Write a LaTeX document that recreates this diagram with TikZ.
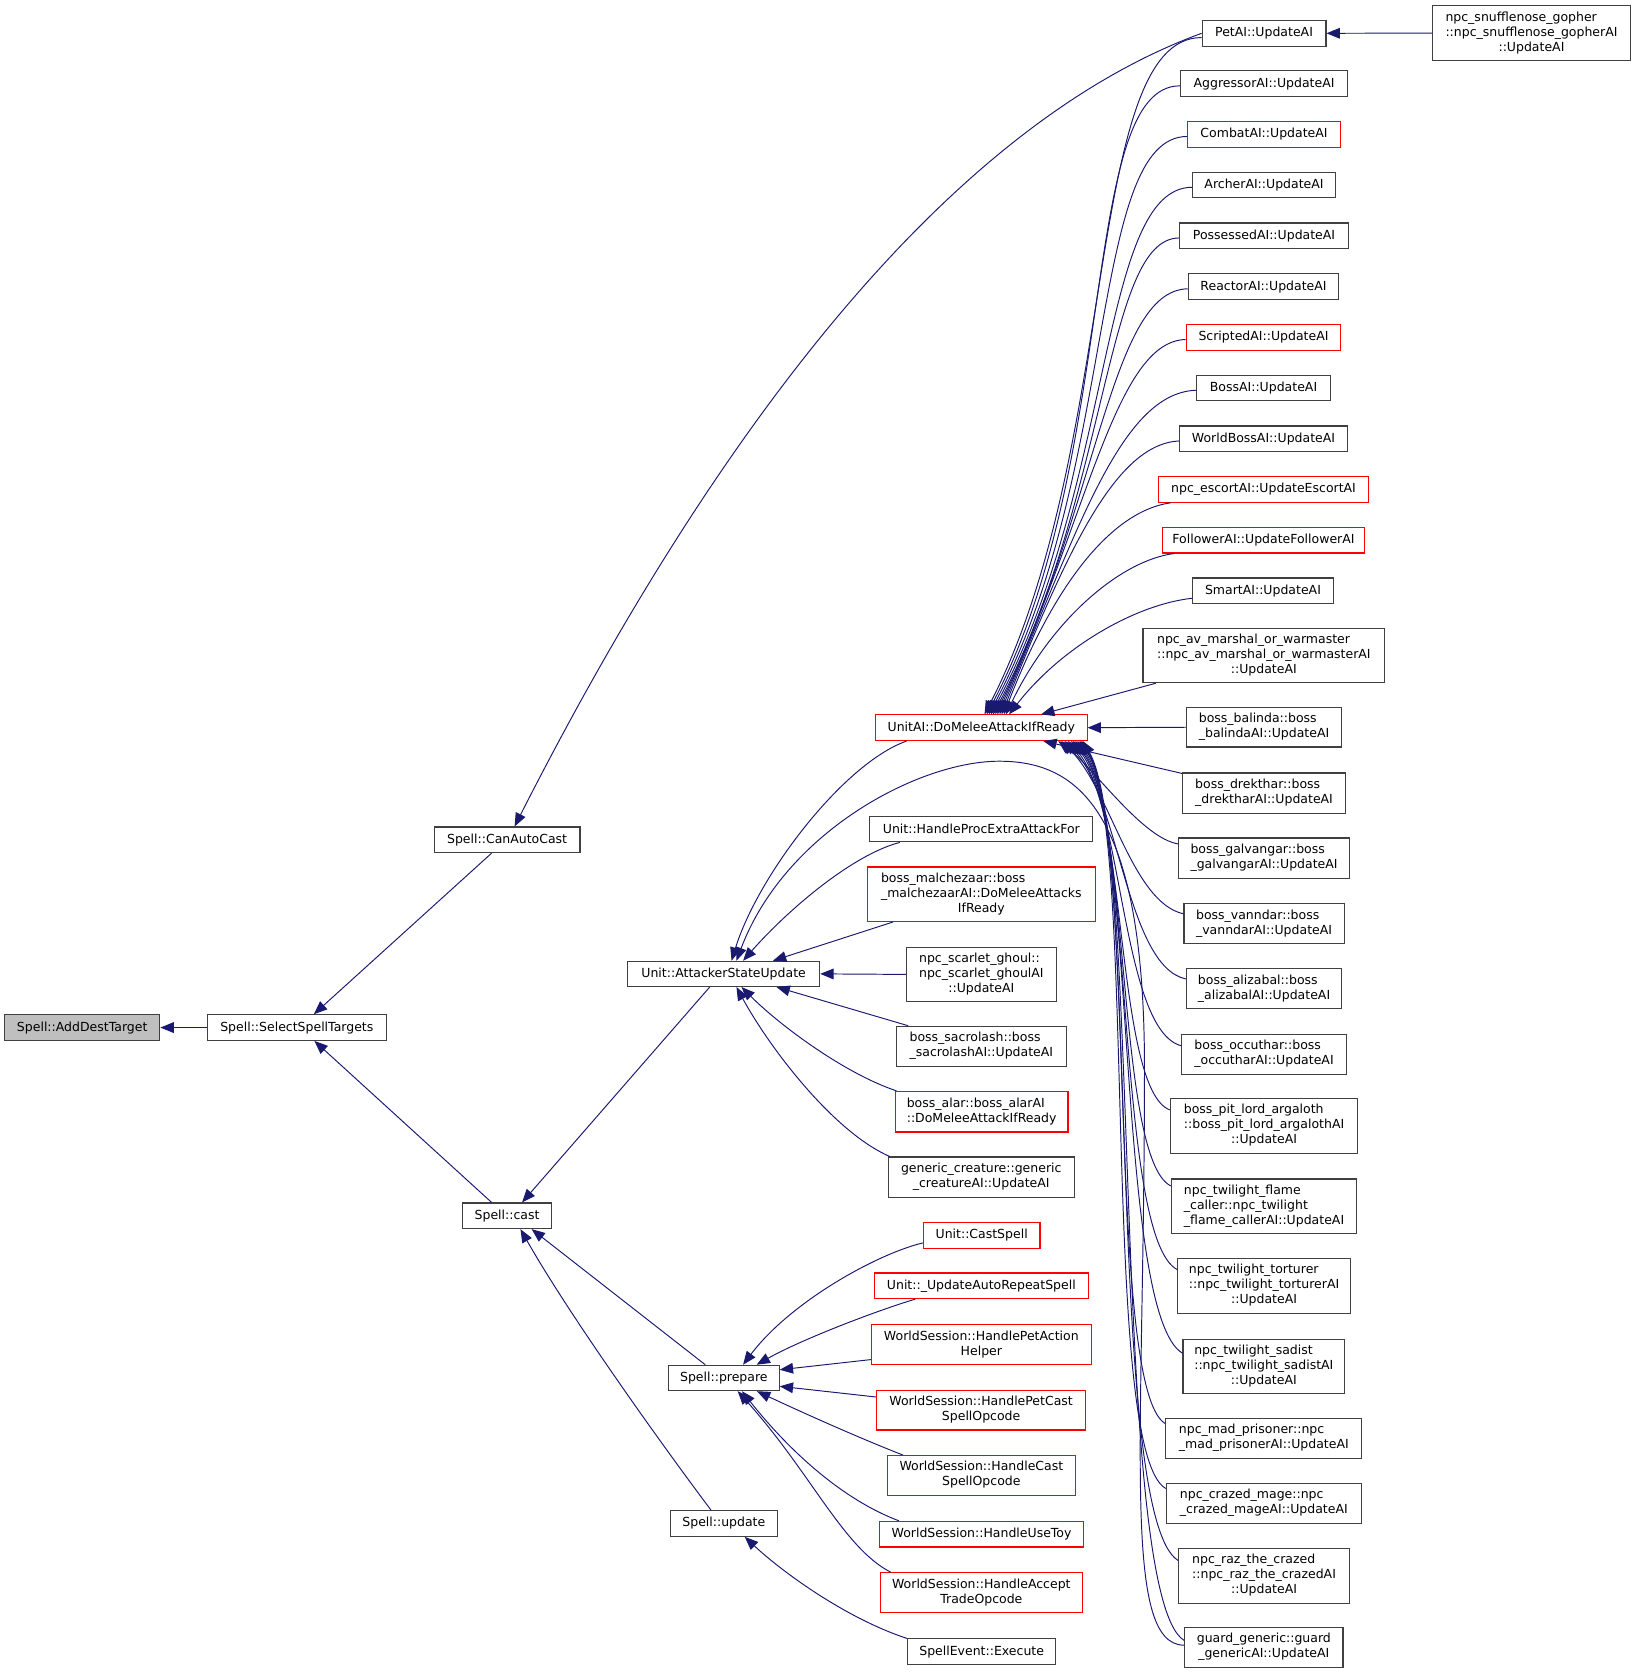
\documentclass[tikz,border=0pt]{standalone}
\usepackage{fontspec}
\setmainfont{DejaVu Sans}
\usetikzlibrary{arrows.meta,calc}
\definecolor{edgec}{HTML}{191970}
\definecolor{boxc}{HTML}{404040}
\definecolor{grayf}{HTML}{BFBFBF}
\newcommand{\ml}[2]{\begin{tabular}{@{}l@{}}#1\\\multicolumn{1}{@{}c@{}}{#2}\end{tabular}}
\begin{document}
\begin{tikzpicture}[x=1pt,y=-1pt,
  nb/.style={draw=boxc, line width=1pt, fill=white, inner sep=0pt, text=black, font=\fontsize{11.7}{14}\selectfont},
  nr/.style={nb, draw=red},
  ng/.style={nb, fill=grayf},
  ed/.style={draw=edgec, line width=0.9pt, -{Triangle[length=12.5pt,width=10pt]}, fill=none},
]
\useasboundingbox (0,0) rectangle (1532,1568);
\fill[white] (0,0) rectangle (1532,1568);

% ---------- left part ----------
\node[ng, minimum width=145.5pt, minimum height=24pt] (add) at (77,962.5) {Spell::AddDestTarget};
\node[nb, minimum width=167.7pt, minimum height=24pt] (sst) at (278,962.5) {Spell::SelectSpellTargets};
\node[nb, minimum width=136.5pt, minimum height=24pt] (cac) at (475,786.6) {Spell::CanAutoCast};
\node[nb, minimum width=82.8pt, minimum height=24pt] (cast) at (475,1138.8) {Spell::cast};
\node[nb, minimum width=180pt, minimum height=23.6pt] (asu) at (677.8,912.2) {Unit::AttackerStateUpdate};
\node[nb, minimum width=103.7pt, minimum height=23.8pt] (prep) at (678,1290.7) {Spell::prepare};
\node[nb, minimum width=100pt, minimum height=24pt] (upd) at (678,1427) {Spell::update};

% ---------- middle column ----------
\node[nr, minimum width=198pt, minimum height=24pt] (dm) at (919.2,681.6) {UnitAI::DoMeleeAttackIfReady};
\node[nb, minimum width=209pt, minimum height=24pt] (hpe) at (919.2,776.6) {Unit::HandleProcExtraAttackFor};
\node[nr, minimum width=214pt, minimum height=51pt] (mal) at (919.2,837.6) {\ml{boss\_malchezaar::boss\\\_malchezaarAI::DoMeleeAttacks}{IfReady}};
\node[nb, minimum width=140.5pt, minimum height=51pt] (sg) at (919.2,912.7) {\ml{npc\_scarlet\_ghoul::\\npc\_scarlet\_ghoulAI}{::UpdateAI}};
\node[nb, minimum width=159pt, minimum height=37.5pt] (sac) at (919.2,980) {\ml{boss\_sacrolash::boss}{\_sacrolashAI::UpdateAI}};
\node[nr, minimum width=161.7pt, minimum height=38pt] (alar) at (919.5,1041.3) {\ml{boss\_alar::boss\_alarAI}{::DoMeleeAttackIfReady}};
\node[nb, minimum width=174pt, minimum height=37.5pt] (gc) at (919.1,1102.5) {\ml{generic\_creature::generic}{\_creatureAI::UpdateAI}};
\node[nr, minimum width=109.3pt, minimum height=24pt] (cs) at (919.5,1157.2) {Unit::CastSpell};
\node[nr, minimum width=201pt, minimum height=24pt] (uar) at (919.2,1204.4) {Unit::\_UpdateAutoRepeatSpell};
\node[nr, minimum width=206pt, minimum height=37.4pt] (hpa) at (919.2,1259.5) {\ml{WorldSession::HandlePetAction}{Helper}};
\node[nr, minimum width=196.3pt, minimum height=37.1pt] (hpc) at (919,1320.9) {\ml{WorldSession::HandlePetCast}{SpellOpcode}};
\node[nr, minimum width=176.6pt, minimum height=37.2pt] (hcs) at (919.2,1382) {\ml{WorldSession::HandleCast}{SpellOpcode}};
\node[nr, minimum width=191.8pt, minimum height=24pt] (hut) at (919.4,1437) {WorldSession::HandleUseToy};
\node[nr, minimum width=189.8pt, minimum height=37.5pt] (hat) at (919.2,1492) {\ml{WorldSession::HandleAccept}{TradeOpcode}};
\node[nb, minimum width=139pt, minimum height=24pt] (se) at (919.5,1547.1) {SpellEvent::Execute};

% ---------- right column ----------
\node[nb, minimum width=116pt, minimum height=24pt] (pet) at (1184,31.2) {PetAI::UpdateAI};
\node[nb, minimum width=185pt, minimum height=51.5pt] (gopher) at (1434.5,31) {\ml{npc\_snufflenose\_gopher\\::npc\_snufflenose\_gopherAI}{::UpdateAI}};
\node[nb, minimum width=156.3pt, minimum height=24pt] (aggr) at (1184,78.4) {AggressorAI::UpdateAI};
\node[nr, minimum width=142.8pt, minimum height=24pt] (comb) at (1184,125.8) {CombatAI::UpdateAI};
\node[nb, minimum width=133.8pt, minimum height=24pt] (arch) at (1184,173.4) {ArcherAI::UpdateAI};
\node[nb, minimum width=158.7pt, minimum height=24pt] (poss) at (1184,220.9) {PossessedAI::UpdateAI};
\node[nb, minimum width=141pt, minimum height=24pt] (reac) at (1183.5,268.5) {ReactorAI::UpdateAI};
\node[nr, minimum width=145pt, minimum height=24pt] (scr) at (1183.5,316) {ScriptedAI::UpdateAI};
\node[nb, minimum width=125pt, minimum height=24pt] (boss) at (1183.5,363.5) {BossAI::UpdateAI};
\node[nb, minimum width=157pt, minimum height=24pt] (wboss) at (1183.5,411) {WorldBossAI::UpdateAI};
\node[nr, minimum width=197pt, minimum height=24pt] (esc) at (1183.5,458.5) {npc\_escortAI::UpdateEscortAI};
\node[nr, minimum width=189pt, minimum height=24pt] (foll) at (1183.5,506) {FollowerAI::UpdateFollowerAI};
\node[nb, minimum width=132pt, minimum height=24pt] (smart) at (1183,553.4) {SmartAI::UpdateAI};
\node[nb, minimum width=226.4pt, minimum height=51pt] (avm) at (1183.8,614) {\ml{npc\_av\_marshal\_or\_warmaster\\::npc\_av\_marshal\_or\_warmasterAI}{::UpdateAI}};
\node[nb, minimum width=144.6pt, minimum height=37pt] (bal) at (1184,681.2) {\ml{boss\_balinda::boss}{\_balindaAI::UpdateAI}};
\node[nb, minimum width=153pt, minimum height=37.5pt] (drek) at (1184,742.8) {\ml{boss\_drekthar::boss}{\_drektharAI::UpdateAI}};
\node[nb, minimum width=160pt, minimum height=37.5pt] (galv) at (1184,803.7) {\ml{boss\_galvangar::boss}{\_galvangarAI::UpdateAI}};
\node[nb, minimum width=150pt, minimum height=37.5pt] (vann) at (1184,865.2) {\ml{boss\_vanndar::boss}{\_vanndarAI::UpdateAI}};
\node[nb, minimum width=145.6pt, minimum height=37.5pt] (aliz) at (1184,926.2) {\ml{boss\_alizabal::boss}{\_alizabalAI::UpdateAI}};
\node[nb, minimum width=154pt, minimum height=37.5pt] (occ) at (1184,987.3) {\ml{boss\_occuthar::boss}{\_occutharAI::UpdateAI}};
\node[nb, minimum width=175.7pt, minimum height=51pt] (pit) at (1184,1054.6) {\ml{boss\_pit\_lord\_argaloth\\::boss\_pit\_lord\_argalothAI}{::UpdateAI}};
\node[nb, minimum width=173.8pt, minimum height=51pt] (flame) at (1184,1129.8) {\ml{npc\_twilight\_flame\\\_caller::npc\_twilight}{\_flame\_callerAI::UpdateAI}};
\node[nb, minimum width=161.4pt, minimum height=51.5pt] (tort) at (1184,1204.5) {\ml{npc\_twilight\_torturer\\::npc\_twilight\_torturerAI}{::UpdateAI}};
\node[nb, minimum width=151.5pt, minimum height=51pt] (sad) at (1183.8,1280) {\ml{npc\_twilight\_sadist\\::npc\_twilight\_sadistAI}{::UpdateAI}};
\node[nb, minimum width=183.8pt, minimum height=37.6pt] (mad) at (1183.8,1347.2) {\ml{npc\_mad\_prisoner::npc}{\_mad\_prisonerAI::UpdateAI}};
\node[nb, minimum width=182.6pt, minimum height=37.5pt] (craz) at (1183.8,1408) {\ml{npc\_crazed\_mage::npc}{\_crazed\_mageAI::UpdateAI}};
\node[nb, minimum width=160pt, minimum height=51.7pt] (raz) at (1184,1476) {\ml{npc\_raz\_the\_crazed\\::npc\_raz\_the\_crazedAI}{::UpdateAI}};
\node[nb, minimum width=148.3pt, minimum height=38pt] (guard) at (1183.8,1543) {\ml{guard\_generic::guard}{\_genericAI::UpdateAI}};

% ---------- edges: left ----------
\draw[ed] (sst.west) -- (add.east);
\draw[ed] ($(cac.south)+(-14.5,0)$) -- ($(sst.north)+(16,0)$);
\draw[ed] ($(cast.north)+(-14.5,0)$) -- ($(sst.south)+(16.5,0)$);
\draw[ed] (pet.west) .. controls (861,128) and (640,463) .. ($(cac.north)+(7,0)$);
\draw[ed] ($(asu.south)+(-13,0)$) -- ($(cast.north)+(14,0)$);
\draw[ed] ($(prep.north)+(-17.4,0)$) -- ($(cast.south)+(23,0)$);
\draw[ed] ($(upd.north)+(-12,0)$) .. controls (625,1360) and (535,1235) .. ($(cast.south)+(12.5,0)$);

% ---------- edges into AttackerStateUpdate ----------
\draw[ed] ($(dm.south)+(-70,0)$) .. controls (790,715) and (710,820) .. ($(asu.north)+(7.4,0)$);
\draw[ed] ($(guard.west)+(0,-2)$) .. controls (1050,1541) and (1072,1350) .. (1072,1000)
   .. controls (1072,760) and (1010,713) .. (936,713)
   .. controls (860,713) and (735,780) .. ($(asu.north)+(12,0)$);
\draw[ed] ($(hpe.south)+(-76.4,0)$) .. controls (800,800) and (740,850) .. ($(asu.north)+(18.2,0)$);
\draw[ed] ($(mal.south)+(-82.7,0)$) -- ($(asu.north)+(46.2,0)$);
\draw[ed] (sg.west) -- (asu.east);
\draw[ed] ($(sac.north)+(-68.6,0)$) -- ($(asu.south)+(49.5,0)$);
\draw[ed] ($(alar.north)+(-79.8,0)$) .. controls (790,1005) and (730,960) .. ($(asu.south)+(16.7,0)$);
\draw[ed] ($(gc.north)+(-85.7,0)$) .. controls (780,1060) and (720,980) .. ($(asu.south)+(12,0)$);

% ---------- edges into prepare / update ----------
\draw[ed] ($(cs.west)+(0,7)$) .. controls (820,1175) and (740,1220) .. ($(prep.north)+(18,0)$);
\draw[ed] ($(uar.south)+(-62,0)$) .. controls (820,1228) and (750,1255) .. ($(prep.north)+(30.7,0)$);
\draw[ed] ($(hpa.west)+(0,14)$) -- ($(prep.east)+(0,-7.7)$);
\draw[ed] ($(hpc.west)+(0,-12.4)$) -- ($(prep.east)+(0,7.8)$);
\draw[ed] ($(hcs.north)+(-73.5,0)$) .. controls (800,1345) and (745,1320) .. ($(prep.south)+(31,0)$);
\draw[ed] ($(hut.north)+(-77.4,0)$) .. controls (790,1405) and (740,1360) .. ($(prep.south)+(17,0)$);
\draw[ed] ($(hat.north)+(-84.7,0)$) .. controls (790,1450) and (760,1380) .. ($(prep.south)+(13,0)$);
\draw[ed] ($(se.north)+(-70.1,0)$) .. controls (790,1515) and (730,1470) .. ($(upd.south)+(19.6,0)$);

% ---------- right top ----------
\draw[ed] (gopher.west) -- (pet.east);

% ---------- upper fan into DoMeleeAttackIfReady ----------
\draw[ed] ($(pet.west)+(0,4)$) .. controls (1015,35) and (1050,420) .. ($(dm.north)+(3,0)$);
\draw[ed] ($(aggr.west)+(0,2)$) .. controls (1010,80) and (1050,430) .. ($(dm.north)+(5,0)$);
\draw[ed] ($(comb.west)+(0,2)$) .. controls (1020,128) and (1048,440) .. ($(dm.north)+(7,0)$);
\draw[ed] ($(arch.west)+(0,2)$) .. controls (1030,176) and (1045,450) .. ($(dm.north)+(9,0)$);
\draw[ed] ($(poss.west)+(0,2)$) .. controls (1035,224) and (1040,460) .. ($(dm.north)+(11,0)$);
\draw[ed] ($(reac.west)+(0,2)$) .. controls (1040,272) and (1030,470) .. ($(dm.north)+(13,0)$);
\draw[ed] ($(scr.west)+(0,2)$) .. controls (1045,320) and (1020,480) .. ($(dm.north)+(15,0)$);
\draw[ed] ($(boss.west)+(0,2)$) .. controls (1050,368) and (1010,495) .. ($(dm.north)+(17,0)$);
\draw[ed] ($(wboss.west)+(0,2)$) .. controls (1045,416) and (1000,515) .. ($(dm.north)+(19,0)$);
\draw[ed] ($(esc.south west)+(12,0)$) .. controls (1045,478) and (990,540) .. ($(dm.north)+(21,0)$);
\draw[ed] ($(foll.south west)+(11,0)$) .. controls (1050,525) and (985,580) .. ($(dm.north)+(23,0)$);
\draw[ed] ($(smart.west)+(0,7)$) .. controls (1065,566) and (995,605) .. ($(dm.north)+(26,0)$);
\draw[ed] ($(avm.south west)+(12.4,0)$) -- ($(dm.north)+(56,0)$);

% ---------- lower fan into DoMeleeAttackIfReady ----------
\draw[ed] (bal.west) -- (dm.east);
\draw[ed] ($(drek.north west)+(0.5,1)$) -- ($(dm.south)+(58,0)$);
\draw[ed] ($(galv.north west)+(0,6)$) .. controls (1070,785) and (1025,720) .. ($(dm.south)+(72,0)$);
\draw[ed] ($(vann.north west)+(0,10)$) .. controls (1060,845) and (1040,740) .. ($(dm.south)+(75,0)$);
\draw[ed] ($(aliz.north west)+(0,10)$) .. controls (1055,905) and (1048,745) .. ($(dm.south)+(78,0)$);
\draw[ed] ($(occ.north west)+(0,11.5)$) .. controls (1050,965) and (1052,750) .. ($(dm.south)+(81,0)$);
\draw[ed] ($(pit.north west)+(0,11)$) .. controls (1045,1020) and (1056,755) .. ($(dm.south)+(84,0)$);
\draw[ed] ($(flame.north west)+(0,7)$) .. controls (1045,1085) and (1060,760) .. ($(dm.south)+(86,0)$);
\draw[ed] ($(tort.north west)+(0,11)$) .. controls (1045,1160) and (1062,765) .. ($(dm.south)+(88,0)$);
\draw[ed] ($(sad.north west)+(0,13.5)$) .. controls (1045,1230) and (1064,770) .. ($(dm.south)+(90,0)$);
\draw[ed] ($(mad.north west)+(0,5.5)$) .. controls (1035,1300) and (1066,775) .. ($(dm.south)+(92,0)$);
\draw[ed] ($(craz.north west)+(0,5.5)$) .. controls (1030,1360) and (1066,780) .. ($(dm.south)+(93,0)$);
\draw[ed] ($(raz.north west)+(0,12)$) .. controls (1035,1420) and (1068,785) .. ($(dm.south)+(94,0)$);
\draw[ed] ($(guard.north west)+(0,13)$) .. controls (1040,1495) and (1070,790) .. ($(dm.south)+(95,0)$);
\end{tikzpicture}
\end{document}
